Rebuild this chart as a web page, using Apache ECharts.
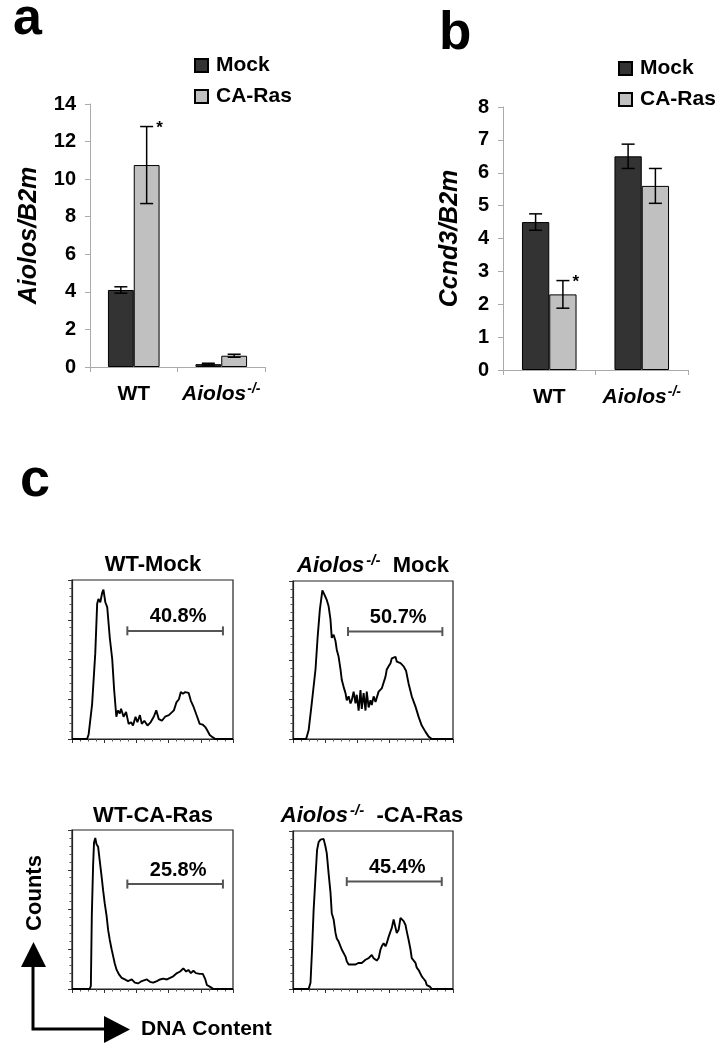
<!DOCTYPE html>
<html><head><meta charset="utf-8">
<script src="https://cdn.jsdelivr.net/npm/echarts@6/dist/echarts.min.js"></script>
<style>html,body{margin:0;padding:0;background:#fff}#c{width:726px;height:1050px}</style>
</head><body><div id="c"></div>
<script>
const FONT = '"Liberation Sans", Arial, sans-serif';

// ---- Panel a / b data ----
const barCategories = ['WT', 'Aiolos-/-'];
const seriesNames = ['Mock', 'CA-Ras'];
const aiolosMock = [4.1, 0.15];
const aiolosMockErr = [0.17, 0.05];
const aiolosRas = [10.75, 0.6];
const aiolosRasErr = [2.05, 0.08];
const aiolosRasStar = [1, 0];
const aiolosMockStar = [0, 0];
const ccnd3Mock = [4.5, 6.5];
const ccnd3MockErr = [0.25, 0.37];
const ccnd3Ras = [2.3, 5.6];
const ccnd3RasErr = [0.42, 0.53];
const ccnd3RasStar = [1, 0];
const ccnd3MockStar = [0, 0];
const aiolosAxis = {min: 0, max: 14, interval: 2};
const ccnd3Axis = {min: 0, max: 8, interval: 1};

// ---- Panel c: DNA content histograms [channel, % of max counts] ----
const histWTMock = [[0,0],[24,0],[26.5,3],[32,22],[37,54],[40,85],[42,88],[45,86],[48,92],[50,94],[53,86],[56,83],[60,64],[64,50],[67,31],[70.5,14],[73,18],[76,16],[78,19],[82,14],[86,17],[90,9.5],[94,10.5],[97,8.5],[101,14],[104,10.5],[108,15],[111,9.5],[115,11.5],[120,8.5],[125,10.5],[130,14],[134,18],[138,12.5],[143,11.5],[148,14],[154,15],[157,16],[162,18],[166,23],[170,25],[173,29.5],[176.5,28.5],[180,29.5],[185.5,29],[189,24],[193.5,20],[199,14],[203,9.5],[208,9],[212,7.5],[215,5.5],[219,2.5],[224,1],[228,0],[256,0]];
const histKOMock = [[0,0],[21,0],[25,5.5],[30,22.5],[36,44],[39.5,65],[43,82],[45,88],[47,94],[49,92.5],[52,93.5],[54,88],[57,84],[60,75.5],[62,64],[65,66],[68,62],[70,56.5],[73,52],[76,44],[78,37.5],[81,33],[84,29],[86,24.5],[89,27],[92,22.5],[94,24.5],[97,30],[100,22.5],[102,28],[105,18],[108,31],[110,19],[113,29],[116,18],[118,30],[121,20],[124,24.5],[126,21.5],[129,27],[132,23.5],[134,24.5],[137,30],[140,29],[142,32],[145,33],[148,39.5],[150,44],[153,46],[156,48],[158,51],[161,50],[164,52],[166,49],[169,50],[172,48],[174,49],[177,46],[181,43],[185,35],[190,27],[196,20.5],[201,14],[206,8.5],[212,4.5],[217,1.5],[222,0],[256,0]];
const histWTRas = [[0,0],[28,0],[30,2],[31.5,46],[33.5,77],[35,92],[37,95],[39,91],[41.5,89.5],[44,81],[47,71],[49.5,62],[52,54],[55,46],[57.5,37],[60,31],[63,25],[65.5,20.5],[68,16],[71,12],[75,9],[79,7],[84,6],[89,5],[95,6],[100,4],[105,3.5],[111,5],[119,6],[124,4.5],[129,4],[135,5],[140,6],[145,6.5],[151,6],[156,7],[161,8],[167,10],[172,11],[177,13],[181.5,11],[185,12],[189,10],[193,11.5],[197,10],[203,9.5],[208,9.5],[212,6],[214.5,2.5],[219,1.5],[225,0],[256,0]];
const histKORas = [[0,0],[25,0],[28,4],[30.5,25],[33,50],[36,71],[38.5,88],[41,93],[44,94.5],[46,94],[49,95],[52,90],[54,86],[57,73],[60,61],[62,48],[65,44],[68,35.5],[70,32],[73,30],[76,27],[78,25],[81,24],[84,20.5],[86,17.5],[89,15.5],[92,14.5],[94,15.5],[97,14.5],[100,15.5],[102,14.5],[105,16.5],[108,15.5],[110,16.5],[113,17.5],[116,18.5],[118,17.5],[121,19.5],[124,20.5],[126,21.5],[129,19.5],[132,18.5],[134,18],[137,19.5],[140,25],[142,27],[145,29],[148,27],[150,29],[153,33],[156,36.5],[158,38.5],[161,44],[164,45],[166,35.5],[169,37.5],[172,45],[174,46],[177,43],[180,40.5],[182,36.5],[185,31],[188,25],[190,19.5],[193,18.5],[196,16.5],[198,13.5],[201,12],[204,11],[206,8],[209,6.5],[212,5],[214,2.5],[219,1.5],[222,0],[256,0]];
// gates: [from, to, level]
const gateWTMock = [88, 240, 68];
const gateKOMock = [88, 239, 68];
const gateWTRas = [88, 240, 66];
const gateKORas = [86, 238, 68];
const gateLabels = ['40.8%', '50.7%', '25.8%', '45.4%'];
const histTitles = ['WT-Mock', 'Aiolos-/- Mock', 'WT-CA-Ras', 'Aiolos-/- -CA-Ras'];

const chart = echarts.init(document.getElementById('c'), null, {renderer: 'canvas'});

const GAP = 0.41;
function errRender(side) {
  return function (params, api) {
    const cat = api.value(0), v = api.value(1), e = api.value(2), star = api.value(3);
    const bw = api.size([1, 0])[0];
    const barW = bw * (1 - GAP) / 2;
    const cx = api.coord([cat, v])[0] + side * barW / 2;
    const yTop = api.coord([cat, v + e])[1];
    const yBot = api.coord([cat, v - e])[1];
    const cap = 6.5;
    const st = {stroke: '#000', lineWidth: 1.5};
    const ch = [
      {type: 'line', shape: {x1: cx, y1: yTop, x2: cx, y2: yBot}, style: st},
      {type: 'line', shape: {x1: cx - cap, y1: yTop, x2: cx + cap, y2: yTop}, style: st},
      {type: 'line', shape: {x1: cx - cap, y1: yBot, x2: cx + cap, y2: yBot}, style: st}
    ];
    if (star) ch.push({type: 'text', x: cx + cap + 3, y: yTop + 2,
      style: {text: '*', font: 'bold 17px ' + FONT, fill: '#000', textAlign: 'left', textVerticalAlign: 'middle'}});
    return {type: 'group', children: ch};
  };
}
function gateRender(label) {
  return function (params, api) {
    const p1 = api.coord([api.value(0), api.value(2)]);
    const p2 = api.coord([api.value(1), api.value(2)]);
    const st = {stroke: '#555', lineWidth: 2};
    return {type: 'group', children: [
      {type: 'line', shape: {x1: p1[0], y1: p1[1], x2: p2[0], y2: p2[1]}, style: st},
      {type: 'line', shape: {x1: p1[0], y1: p1[1] - 4.5, x2: p1[0], y2: p1[1] + 4.5}, style: st},
      {type: 'line', shape: {x1: p2[0], y1: p2[1] - 4.5, x2: p2[0], y2: p2[1] + 4.5}, style: st},
      {type: 'text', x: (p1[0] + p2[0]) / 2 + 3, y: p1[1] - 14,
        style: {text: label, font: 'bold 20px ' + FONT, fill: '#000', textAlign: 'center', textVerticalAlign: 'middle'}}
    ]};
  };
}

const richCat = {
  b: {fontFamily: FONT, fontWeight: 'bold', fontSize: 21, lineHeight: 24, color: '#000'},
  i: {fontFamily: FONT, fontWeight: 'bold', fontStyle: 'italic', fontSize: 21, lineHeight: 24, color: '#000'},
  s: {fontFamily: FONT, fontWeight: 'bold', fontStyle: 'italic', fontSize: 14, lineHeight: 14, verticalAlign: 'top', color: '#000', padding: [0, 0, 0, 1]}
};
function catFmt(v) { return v === 'WT' ? '{b|WT}' : '{i|Aiolos}{s|-/-}'; }

function barX(gi) {
  return {type: 'category', gridIndex: gi, data: barCategories,
    axisLine: {lineStyle: {color: '#aaa', width: 1}},
    axisTick: {show: true, length: 5, lineStyle: {color: '#aaa'}},
    axisLabel: {interval: 0, hideOverlap: false, margin: 15, formatter: catFmt, rich: richCat}};
}
function barY(gi, ax, name, gap) {
  return {type: 'value', gridIndex: gi, min: ax.min, max: ax.max, interval: ax.interval,
    name: name, nameLocation: 'middle', nameRotate: 90, nameGap: gap,
    nameTextStyle: {fontFamily: FONT, fontWeight: 'bold', fontStyle: 'italic', fontSize: 25, color: '#000'},
    splitLine: {show: false},
    axisLine: {show: true, lineStyle: {color: '#aaa', width: 1}},
    axisTick: {show: true, length: 5, lineStyle: {color: '#aaa'}},
    axisLabel: {margin: 14, fontFamily: FONT, fontWeight: 'bold', fontSize: 20, color: '#000'}};
}
function histX(gi) {
  return {type: 'value', gridIndex: gi, min: 0, max: 256, interval: 51.2,
    axisLine: {lineStyle: {color: '#222', width: 1.2}},
    axisTick: {show: true, length: 4, lineStyle: {color: '#333'}},
    minorTick: {show: true, splitNumber: 4, length: 2.5, lineStyle: {color: '#555'}},
    axisLabel: {show: false}, splitLine: {show: false}};
}
function histY(gi) {
  return {type: 'value', gridIndex: gi, min: 0, max: 100, interval: 25,
    axisLine: {show: true, lineStyle: {color: '#222', width: 1.2}},
    axisTick: {show: true, length: 4, lineStyle: {color: '#333'}},
    minorTick: {show: true, splitNumber: 5, length: 2.5, lineStyle: {color: '#555'}},
    axisLabel: {show: false}, splitLine: {show: false}};
}

const barStyleMock = {color: '#333', borderColor: '#000', borderWidth: 1};
const barStyleRas = {color: '#c0c0c0', borderColor: '#000', borderWidth: 1};

function barSeries(gi, mock, ras) {
  return [
    {type: 'bar', name: seriesNames[0], xAxisIndex: gi, yAxisIndex: gi, data: mock, itemStyle: barStyleMock, barGap: '0%', barCategoryGap: (GAP * 100) + '%'},
    {type: 'bar', name: seriesNames[1], xAxisIndex: gi, yAxisIndex: gi, data: ras, itemStyle: barStyleRas, barGap: '0%', barCategoryGap: (GAP * 100) + '%'}
  ];
}
function errSeries(gi, vals, errs, stars, side) {
  return {type: 'custom', xAxisIndex: gi, yAxisIndex: gi, renderItem: errRender(side), z: 5,
    data: vals.map((v, i) => [i, v, errs[i], stars[i]]), silent: true};
}

const hists = [histWTMock, histKOMock, histWTRas, histKORas];
const gates = [gateWTMock, gateKOMock, gateWTRas, gateKORas];
const histGrids = [
  {left: 72, top: 580, width: 161, height: 159},
  {left: 293, top: 581, width: 160, height: 158},
  {left: 72, top: 830, width: 161, height: 159},
  {left: 293, top: 831, width: 160, height: 158}
];

const series = [].concat(
  barSeries(0, aiolosMock, aiolosRas),
  [errSeries(0, aiolosMock, aiolosMockErr, aiolosMockStar, -1), errSeries(0, aiolosRas, aiolosRasErr, aiolosRasStar, 1)],
  barSeries(1, ccnd3Mock, ccnd3Ras),
  [errSeries(1, ccnd3Mock, ccnd3MockErr, ccnd3MockStar, -1), errSeries(1, ccnd3Ras, ccnd3RasErr, ccnd3RasStar, 1)]
);
hists.forEach((h, k) => {
  series.push({type: 'line', xAxisIndex: k + 2, yAxisIndex: k + 2, data: h, showSymbol: false, smooth: false,
    lineStyle: {color: '#000', width: 1.9}, silent: true});
  series.push({type: 'custom', xAxisIndex: k + 2, yAxisIndex: k + 2, renderItem: gateRender(gateLabels[k]),
    data: [gates[k]], silent: true});
});

const richTitle = {
  b: {fontFamily: FONT, fontWeight: 'bold', fontSize: 22, lineHeight: 26, fill: '#000'},
  i: {fontFamily: FONT, fontWeight: 'bold', fontStyle: 'italic', fontSize: 22, lineHeight: 26, fill: '#000'},
  s: {fontFamily: FONT, fontWeight: 'bold', fontStyle: 'italic', fontSize: 15, lineHeight: 15, verticalAlign: 'top', fill: '#000', padding: [0, 0, 0, 2]}
};
function titleText(t) {
  return t.replace('Aiolos-/-', '{i|Aiolos}{s|-/-}').replace(/^(WT.*)$/, '{b|$1}').replace(/ (Mock|-CA-Ras)$/, '{b|  $1}');
}
const titleCenters = [[153, 565], [373, 566], [153, 816], [372, 816]];

const graphics = [
  {type: 'text', x: 13, y: 46, style: {text: 'a', font: 'bold 52px ' + FONT, fill: '#000', textVerticalAlign: 'bottom'}},
  {type: 'text', x: 439, y: 61, style: {text: 'b', font: 'bold 53px ' + FONT, fill: '#000', textVerticalAlign: 'bottom'}},
  {type: 'text', x: 20, y: 508, style: {text: 'c', font: 'bold 54px ' + FONT, fill: '#000', textVerticalAlign: 'bottom'}},
  {type: 'polyline', shape: {points: [[33, 966], [33, 1029], [105, 1029]]}, style: {stroke: '#000', lineWidth: 3, fill: null}},
  {type: 'polygon', shape: {points: [[21, 967], [46, 967], [33.5, 942]]}, style: {fill: '#000'}},
  {type: 'polygon', shape: {points: [[104, 1016], [104, 1043], [130, 1029.5]]}, style: {fill: '#000'}},
  {type: 'text', x: 35, y: 893, rotation: Math.PI / 2, style: {text: 'Counts', font: 'bold 22px ' + FONT, fill: '#000', textAlign: 'center', textVerticalAlign: 'middle'}},
  {type: 'text', x: 141, y: 1029, style: {text: 'DNA Content', font: 'bold 21px ' + FONT, fill: '#000', textAlign: 'left', textVerticalAlign: 'middle'}}
];
histTitles.forEach((t, k) => {
  graphics.push({type: 'text', x: titleCenters[k][0], y: titleCenters[k][1],
    style: {text: titleText(t), rich: richTitle, textAlign: 'center', textVerticalAlign: 'middle'}});
});

const legendBase = {orient: 'vertical', icon: 'rect', itemWidth: 13, itemHeight: 13, itemGap: 10,
  data: seriesNames, selectedMode: false,
  textStyle: {fontFamily: FONT, fontWeight: 'bold', fontSize: 21, color: '#000', padding: [0, 0, 0, 3]}};

chart.setOption({
  animation: false,
  backgroundColor: '#fff',
  textStyle: {fontFamily: FONT},
  legend: [
    Object.assign({}, legendBase, {left: 189, top: 50}),
    Object.assign({}, legendBase, {left: 613, top: 53})
  ],
  grid: [
    {left: 90, top: 104, width: 175, height: 263, outerBoundsMode: 'none', containLabel: false},
    {left: 503, top: 107, width: 185, height: 263, outerBoundsMode: 'none', containLabel: false}
  ].concat(histGrids.map(g => Object.assign({show: true, borderColor: '#222', borderWidth: 1.2, backgroundColor: 'transparent', outerBoundsMode: 'none', containLabel: false}, g))),
  xAxis: [barX(0), barX(1), histX(2), histX(3), histX(4), histX(5)],
  yAxis: [barY(0, aiolosAxis, 'Aiolos/B2m', 48), barY(1, ccnd3Axis, 'Ccnd3/B2m', 40), histY(2), histY(3), histY(4), histY(5)],
  series: series,
  graphic: graphics
});
</script></body></html>
